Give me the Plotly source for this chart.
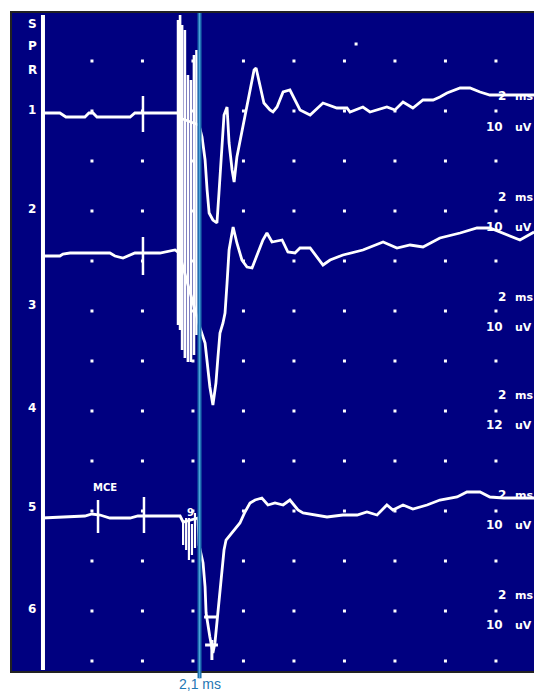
import plotly.graph_objects as go

# ---------------- data (time in ms, 0 = stimulus; amplitude in µV, up = positive) -------------
UV_PER_DIV = 10.0

ch1_base = 11.16   # channel baselines in screen divisions (from bottom)
ch2_base = 8.34
ch5_base = 3.08

ch1_t = [-4.14, -3.43, -3.19, -2.44, -2.28, -2.12, -1.96, -0.65, -0.46, 1.25, 1.32,
         2.08, 2.20, 2.32, 2.40, 2.48, 2.63, 2.79, 2.87, 2.95, 2.99, 3.07, 3.19, 3.27,
         3.39, 3.47, 3.58, 3.86, 4.10, 4.26, 4.34, 4.50, 4.65, 4.89, 5.01, 5.17, 5.41,
         5.68, 5.88, 6.08, 6.48, 6.99, 7.54, 7.94, 8.06, 8.57, 8.85, 9.52, 9.84, 10.16,
         10.55, 10.95, 11.35, 11.62, 11.90, 12.42, 12.81, 13.21, 13.60, 15.35]
ch1_v = [0, 0, -0.8, -0.8, 0, 0, -0.8, -0.8, 0, 0, -1.0,
         -2.4, -4.8, -9.4, -15.4, -20.0, -21.4, -22.0, -16.0, -9.4, -4.8, -0.4, 1.2, -6.0,
         -11.4, -13.8, -8.8, -1.4, 4.6, 8.6, 9.0, 5.2, 2.0, 0.6, 0.2, 1.2, 4.2,
         4.6, 2.6, 0.6, -0.4, 2.0, 1.0, 1.0, 0.2, 1.2, 0.2, 1.2, 0.6, 2.2,
         1.0, 2.6, 2.6, 3.2, 4.0, 5.0, 5.0, 4.2, 3.6, 3.6]

ch2_t = [-4.14, -3.43, -3.31, -3.03, -1.45, -1.25, -0.93, -0.65, -0.46, 0.53, 1.13, 1.29,
         2.12, 2.32, 2.44, 2.51, 2.63, 2.75, 2.83, 2.91, 3.03, 3.11, 3.19, 3.27, 3.43,
         3.58, 3.78, 3.98, 4.18, 4.42, 4.61, 4.77, 4.97, 5.37, 5.60, 5.88, 6.08, 6.48,
         6.99, 7.27, 7.78, 8.57, 9.37, 9.92, 10.44, 10.95, 11.62, 12.42, 13.09, 13.60,
         14.28, 14.79, 15.35]
ch2_v = [-0.4, -0.4, 0, 0.2, 0.2, -0.4, -0.8, -0.2, 0.2, 0.2, 0.8, 0.2,
         -14.8, -17.8, -22.6, -26.6, -30.2, -25.8, -20.6, -15.8, -13.8, -11.8, -5.8, 0.8, 5.4,
         2.2, -1.2, -2.6, -2.8, 0.2, 2.8, 4.2, 2.4, 2.8, 0.4, 0.2, 1.2, 1.2,
         -2.2, -1.2, -0.2, 0.8, 2.4, 1.2, 1.8, 1.4, 3.2, 4.2, 5.2, 5.2,
         3.8, 2.8, 4.4]

ch5_t = [-4.14, -3.43, -2.44, -2.16, -1.84, -1.45, -0.65, -0.34, 1.33, 1.45,
         2.04, 2.08, 2.24, 2.32, 2.36, 2.51, 2.63, 2.71, 2.83, 2.91, 2.99, 3.07, 3.15,
         3.31, 3.50, 3.70, 3.90, 4.10, 4.30, 4.57, 4.81, 5.09, 5.41, 5.68, 6.00, 6.20,
         7.15, 7.78, 8.34, 8.73, 9.13, 9.52, 9.76, 10.16, 10.55, 11.11, 11.62, 12.30,
         12.69, 13.21, 13.60, 14.14, 15.35]
ch5_v = [-0.2, 0, 0.2, 0.6, 0.4, -0.2, -0.2, 0.2, 0.2, -1.0,
         -0.2, -5.6, -9.2, -14.0, -19.2, -24.0, -27.2, -25.2, -19.2, -15.2, -10.6, -6.6, -4.6,
         -3.6, -2.6, -1.2, 1.0, 2.8, 3.4, 3.8, 2.4, 2.8, 2.4, 3.4, 1.4, 0.8,
         0.0, 0.4, 0.4, 1.0, 0.4, 2.4, 1.4, 2.4, 1.6, 2.4, 3.4, 4.0,
         5.0, 5.0, 4.0, 3.8, 3.8]

# small pieces near the bottom of the ch5 response (µV)
ch5_bits_t = [2.28, 2.83, None, 2.32, 2.83, None, 2.59, 2.59]
ch5_bits_v = [-20.0, -20.0, None, -25.6, -25.6, None, -24.6, -28.6]

# stimulus markers: (time, top µV, bottom µV)
mark_ch1 = [(-0.14, 3.4, -3.8)]
mark_ch2 = [(-0.14, 3.4, -4.2)]
mark_ch5 = [(-1.92, 3.4, -3.2), (-0.10, 4.0, -3.2)]

# stimulus artefact columns (time ms, top div, bottom div)
art_t = [1.25, 1.33, 1.41, 1.52, 1.64, 1.76, 1.88, 1.98]
art_top = [13.02, 13.12, 12.92, 12.82, 11.92, 11.82, 12.32, 12.42]
art_bot = [6.92, 6.82, 6.42, 6.26, 6.18, 6.18, 6.32, 6.72]
art5_t = [1.45, 1.57, 1.68, 1.80, 1.92]
art5_top = [3.02, 3.06, 3.06, 2.94, 3.16]
art5_bot = [2.52, 2.42, 2.22, 2.32, 2.46]

# channel labels
left_labels = ["1", "2", "3", "4", "5", "6"]
left_label_y = [11.22, 9.24, 7.32, 5.26, 3.28, 1.24]
top_labels = ["S", "P", "R"]
top_label_y = [12.94, 12.50, 12.02]
sweep_labels = ["2", "2", "2", "2", "2", "2"]
sweep_units = ["ms", "ms", "ms", "ms", "ms", "ms"]
sweep_y = [11.50, 9.48, 7.48, 5.52, 3.52, 1.52]
gain_labels = ["10", "10", "10", "12", "10", "10"]
gain_units = ["uV", "uV", "uV", "uV", "uV", "uV"]
gain_y = [10.88, 8.88, 6.88, 4.92, 2.92, 0.92]

latency_ms = 2.1
latency_label = "2,1 ms"

# ---------------- figure ----------------
def X(px):
    return (px - 146.5) / 25.25

def Y(py):
    return (671 - py) / 50.0

fig = go.Figure()

# grid dots
gx, gy = [], []
for i in range(9):
    for j in range(13):
        gx.append(-2.16 + 2.0 * i)
        gy.append(0.2 + j)
gx.append(8.30)
gy.append(12.54)
fig.add_trace(go.Scatter(x=gx, y=gy, mode="markers",
                         marker=dict(symbol="square", size=3, color="white", line=dict(width=0)),
                         hoverinfo="skip"))

# left vertical line
fig.add_trace(go.Scatter(x=[-4.10, -4.10], y=[0.02, 13.12], mode="lines",
                         line=dict(color="white", width=4), hoverinfo="skip"))

def seg_trace(ts, tops, bots, width):
    xs, ys = [], []
    for t, a, b in zip(ts, tops, bots):
        xs += [t, t, None]
        ys += [a, b, None]
    return go.Scatter(x=xs, y=ys, mode="lines", line=dict(color="white", width=width),
                      hoverinfo="skip")

fig.add_trace(seg_trace(art_t, art_top, art_bot, 2.6))
fig.add_trace(seg_trace(art5_t, art5_top, art5_bot, 2.2))

for base, ts, vs, marks in [(ch1_base, ch1_t, ch1_v, mark_ch1),
                            (ch2_base, ch2_t, ch2_v, mark_ch2),
                            (ch5_base, ch5_t, ch5_v, mark_ch5)]:
    fig.add_trace(go.Scatter(x=ts, y=[base + v / UV_PER_DIV for v in vs], mode="lines",
                             line=dict(color="white", width=2.8), hoverinfo="skip"))
    fig.add_trace(seg_trace([m[0] for m in marks],
                            [base + m[1] / UV_PER_DIV for m in marks],
                            [base + m[2] / UV_PER_DIV for m in marks], 2.5))

fig.add_trace(go.Scatter(x=ch5_bits_t,
                         y=[None if v is None else ch5_base + v / UV_PER_DIV for v in ch5_bits_v],
                         mode="lines", line=dict(color="white", width=3), hoverinfo="skip"))

# latency cursor
fig.add_shape(type="line", xref="x", yref="paper", x0=latency_ms, x1=latency_ms,
              y0=-0.011, y1=1.0, line=dict(color="#1c6fae", width=4))
fig.add_shape(type="line", xref="x", yref="paper", x0=latency_ms, x1=latency_ms,
              y0=-0.011, y1=1.0, line=dict(color="#4fa3dc", width=1.2))

ann = []
wfont = dict(family="DejaVu Sans", size=12, color="white")
sfont = dict(family="DejaVu Sans", size=10, color="white")
ufont = dict(family="DejaVu Sans", size=11, color="white")
for lab, y in zip(left_labels, left_label_y):
    ann.append(dict(x=X(32), y=y, text="<b>%s</b>" % lab, showarrow=False, font=wfont,
                    xanchor="center", yanchor="middle"))
for lab, y in zip(top_labels, top_label_y):
    ann.append(dict(x=X(32), y=y, text="<b>%s</b>" % lab, showarrow=False, font=wfont,
                    xanchor="center", yanchor="middle"))
for lab, u, y in zip(sweep_labels, sweep_units, sweep_y):
    ann.append(dict(x=X(496), y=y, text="<b>%s</b>" % lab, showarrow=False, font=wfont,
                    xanchor="left", yanchor="middle"))
    ann.append(dict(x=X(513), y=y, text="<b>%s</b>" % u, showarrow=False, font=ufont,
                    xanchor="left", yanchor="middle"))
for lab, u, y in zip(gain_labels, gain_units, gain_y):
    ann.append(dict(x=X(484), y=y, text="<b>%s</b>" % lab, showarrow=False, font=wfont,
                    xanchor="left", yanchor="middle"))
    ann.append(dict(x=X(513), y=y, text="<b>%s</b>" % u, showarrow=False, font=ufont,
                    xanchor="left", yanchor="middle"))
ann.append(dict(x=X(105), y=Y(487), text="<b>MCE</b>", showarrow=False, font=sfont,
                xanchor="center", yanchor="middle"))
ann.append(dict(x=X(190), y=Y(512), text="<b>9</b>", showarrow=False, font=sfont,
                xanchor="center", yanchor="middle"))
ann.append(dict(x=latency_ms, xref="x", y=-0.0195, yref="paper", text=latency_label,
                showarrow=False, font=dict(family="Liberation Sans", size=14, color="#1f77b4"),
                xanchor="center", yanchor="middle"))

fig.update_layout(
    width=534, height=691,
    margin=dict(l=12, r=0, t=13, b=20, pad=0),
    paper_bgcolor="white",
    plot_bgcolor="#000080",
    showlegend=False,
    annotations=ann,
    xaxis=dict(range=[X(12), X(534)], showgrid=False, zeroline=False, showticklabels=False,
               ticks="", showline=True, linecolor="#222222", linewidth=2, mirror=True,
               fixedrange=True),
    yaxis=dict(range=[Y(671), Y(13)], showgrid=False, zeroline=False, showticklabels=False,
               ticks="", showline=True, linecolor="#222222", linewidth=2, mirror=False,
               fixedrange=True),
)

fig.write_html(
    "out.html",
    config={"displayModeBar": False},
    post_script="document.body.style.margin='0px';document.body.style.padding='0px';"
                "document.documentElement.style.overflow='hidden';",
)
